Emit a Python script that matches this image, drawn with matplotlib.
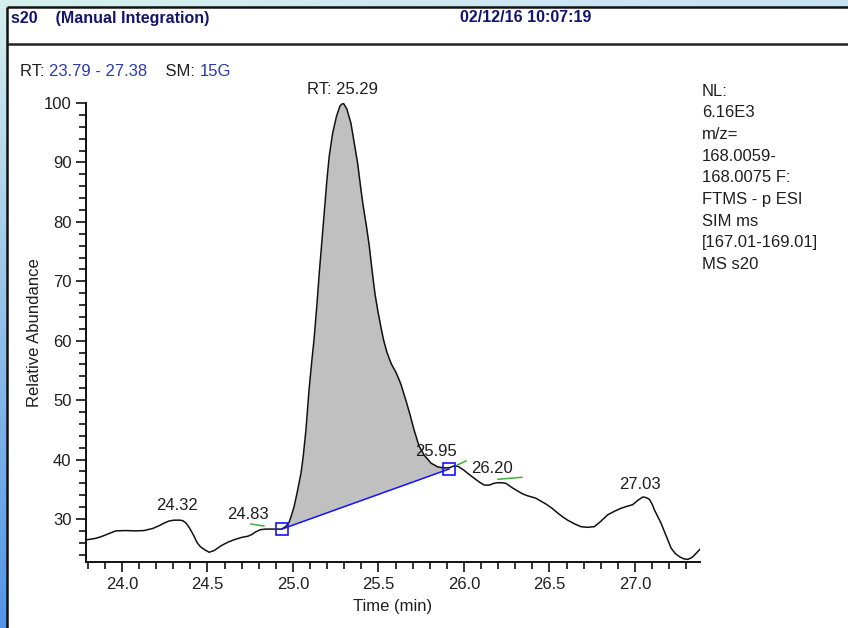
import numpy as np
import matplotlib
matplotlib.use('Agg')
import matplotlib.pyplot as plt
from matplotlib.patches import Rectangle
from matplotlib.ticker import MultipleLocator, FormatStrFormatter

plt.rcParams['font.family'] = ['Liberation Sans', 'DejaVu Sans']

# ---- data ----
rt_range = (23.79, 27.38)
trace_t = [23.795, 23.84, 23.877, 23.92, 23.965, 24.02, 24.08, 24.129, 24.18, 24.22,
           24.246, 24.275, 24.304, 24.34, 24.357, 24.375, 24.395, 24.42, 24.44, 24.46,
           24.485, 24.51, 24.54, 24.58, 24.62, 24.655, 24.70, 24.737, 24.76, 24.78,
           24.81, 24.84, 24.89, 24.935, 24.96, 24.977, 24.99, 25.006, 25.025, 25.047,
           25.06, 25.076, 25.094, 25.11, 25.123, 25.14, 25.154, 25.17, 25.183, 25.20,
           25.212, 25.232, 25.255, 25.275, 25.294, 25.315, 25.339, 25.36, 25.378, 25.395,
           25.41, 25.43, 25.446, 25.466, 25.48, 25.497, 25.515, 25.53, 25.55, 25.575,
           25.60, 25.614, 25.632, 25.66, 25.685, 25.708, 25.737, 25.766, 25.807, 25.848,
           25.88, 25.912, 25.94, 25.963, 26.0, 26.03, 26.06, 26.09, 26.119, 26.148,
           26.175, 26.197, 26.22, 26.245, 26.28, 26.314, 26.345, 26.372, 26.42, 26.45,
           26.48, 26.515, 26.548, 26.575, 26.606, 26.645, 26.684, 26.72, 26.762, 26.80,
           26.84, 26.88, 26.918, 26.95, 26.986, 27.015, 27.045, 27.065, 27.084, 27.10,
           27.114, 27.135, 27.152, 27.18, 27.211, 27.235, 27.26, 27.285, 27.308, 27.325,
           27.338, 27.36, 27.386]
trace_v = [26.5, 26.7, 27.0, 27.5, 28.0, 28.05, 28.0, 28.05, 28.4, 28.9,
           29.3, 29.65, 29.8, 29.8, 29.7, 29.3, 28.5, 27.2, 26.0, 25.3,
           24.8, 24.4, 24.7, 25.5, 26.1, 26.5, 26.9, 27.1, 27.4, 27.8,
           28.2, 28.3, 28.3, 28.3, 28.8, 29.4, 30.5, 32.0, 34.5, 37.7,
           40.5, 45.0, 51.7, 56.5, 60.1, 66.0, 71.4, 77.0, 81.5, 87.5,
           91.0, 94.9, 97.8, 99.5, 100.0, 99.0, 96.6, 93.0, 89.9, 86.0,
           82.8, 79.2, 76.0, 71.0, 67.8, 64.9, 62.2, 60.1, 58.0, 56.1,
           54.8, 53.9, 52.6, 50.0, 47.5, 45.0, 42.3, 40.8, 39.4, 38.75,
           38.6, 38.6, 38.9, 38.9, 38.2, 37.5, 36.85, 36.2, 35.7, 35.7,
           36.0, 36.1, 36.1, 36.0, 35.3, 34.7, 34.2, 33.9, 33.5, 33.0,
           32.5, 31.8, 31.0, 30.4, 29.8, 29.2, 28.7, 28.6, 28.7, 29.6,
           30.7, 31.3, 31.8, 32.1, 32.4, 33.1, 33.7, 33.6, 33.3, 32.5,
           31.5, 30.3, 29.3, 27.3, 25.1, 24.2, 23.65, 23.3, 23.2, 23.4,
           23.65, 24.3, 25.1]

baseline_t = [24.935, 25.912]
baseline_v = [28.3, 38.4]

apex_rt = 25.29
label_rt = [24.32, 24.83, 25.95, 26.20, 27.03]
label_dx = [0, -11.5, -14, -4.3, 0]  # points
green_marks = [([24.754, 24.830], [29.16, 28.82]),
               ([25.963, 26.012], [39.1, 39.76]),
               ([26.199, 26.339], [36.68, 37.02])]

info_lines = ['NL:', '6.16E3', 'm/z=', '168.0059-', '168.0075 F:',
              'FTMS - p ESI', 'SIM ms', '[167.01-169.01]', 'MS s20']
header_left = 's20    (Manual Integration)'
header_date = '02/12/16 10:07:19'
smoothing = '15G'

W, H = 848, 628
FS = 12
fig = plt.figure(figsize=(W / 100, H / 100), dpi=100)

# background: diagonal blue gradient + white panel
bg = fig.add_axes([0, 0, 1, 1], zorder=0)
bg.set_xlim(0, W)
bg.set_ylim(H, 0)
bg.axis('off')
tl = np.array([0.84, 0.94, 0.93])
tr = np.array([0.78, 0.88, 0.96])
bl = np.array([0.33, 0.58, 0.90])
u = np.linspace(0, 1, 200)[None, :, None]
v = np.linspace(0, 1, 200)[:, None, None]
grad = np.clip(tl + (tr - tl) * u + (bl - tl) * v, 0, 1)
bg.imshow(grad, extent=(0, W, H, 0), aspect='auto', interpolation='bilinear')
bg.add_patch(Rectangle((7, 7), W, H, facecolor='white', edgecolor='none'))
bg.plot([7, W], [7, 7], color='#111111', lw=1.8, solid_capstyle='butt')
bg.plot([7, 7], [7, H], color='#111111', lw=1.8, solid_capstyle='butt')
bg.plot([7, W], [43.5, 43.5], color='#222222', lw=1.8, solid_capstyle='butt')

hdr_font = dict(fontweight='bold', fontsize=11.5, color='#14146e', va='center')
bg.text(11, 18, header_left, **hdr_font)
bg.text(460, 18, header_date, **hdr_font)

dark = '#1e1e1e'
blue = '#2b3aa8'
t1 = bg.text(20, 71, 'RT: ', fontsize=FS, color=dark, va='center')
t2 = bg.annotate(f'{rt_range[0]:.2f} - {rt_range[1]:.2f}', xy=(1, 0), xycoords=t1,
                 va='bottom', fontsize=FS, color=blue)
t3 = bg.annotate('    SM: ', xy=(1, 0), xycoords=t2, va='bottom', fontsize=FS, color=dark)
bg.annotate(smoothing, xy=(1, 0), xycoords=t3, va='bottom', fontsize=FS, color=blue)

for i, line in enumerate(info_lines):
    bg.text(702, 91 + i * 21.7, line, fontsize=FS, color=dark, va='center')

# ---- chromatogram axes ----
ax = fig.add_axes([86 / W, 1 - 562 / H, (700 - 86) / W, (562 - 103) / H], zorder=2)
ax.set_facecolor('none')
t = np.array(trace_t)
y = np.array(trace_v)

mask = (t >= baseline_t[0]) & (t <= baseline_t[1])
base = np.interp(t[mask], baseline_t, baseline_v)
ax.fill_between(t[mask], y[mask], base, color='#c0c0c0', lw=0)
ax.plot(t, y, color='#111111', lw=1.1, zorder=3)
ax.plot(baseline_t, baseline_v, color='#1414ff', lw=1.1, zorder=4)
ax.plot(baseline_t, baseline_v, 's', ms=8.5, mfc='none', mec='#1414ff', mew=1.2, zorder=5)
for gt, gv in green_marks:
    ax.plot(gt, gv, color='#3cb043', lw=1.1, zorder=4)

lab_font = dict(fontsize=FS, color=dark, ha='center', va='bottom')
ax.annotate(f'RT: {apex_rt:.2f}', xy=(apex_rt, np.interp(apex_rt, t, y)), xytext=(0, 5),
            textcoords='offset points', **lab_font)
for rt, dx in zip(label_rt, label_dx):
    ax.annotate(f'{rt:.2f}', xy=(rt, np.interp(rt, t, y)), xytext=(dx, 5),
                textcoords='offset points', **lab_font)

ax.set_xlim(*rt_range)
ax.set_ylim(22.76, 100)
for s in ['top', 'right']:
    ax.spines[s].set_visible(False)
for s in ['left', 'bottom']:
    ax.spines[s].set_linewidth(1.4)
    ax.spines[s].set_color('#111111')
ax.xaxis.set_major_locator(MultipleLocator(0.5))
ax.xaxis.set_minor_locator(MultipleLocator(0.1))
ax.yaxis.set_minor_locator(MultipleLocator(2))
ax.set_yticks(np.arange(30, 101, 10))
ax.tick_params(which='major', length=7.5, width=1.2, color='#111111',
               labelsize=FS, labelcolor=dark, pad=3)
ax.tick_params(which='minor', length=5, width=1.2, color='#111111')
ax.xaxis.set_major_formatter(FormatStrFormatter('%.1f'))
ax.set_xlabel('Time (min)', fontsize=FS, color=dark, labelpad=5)
ax.set_ylabel('Relative Abundance', fontsize=FS, color=dark, labelpad=1)

fig.savefig('out.png', dpi=100)
